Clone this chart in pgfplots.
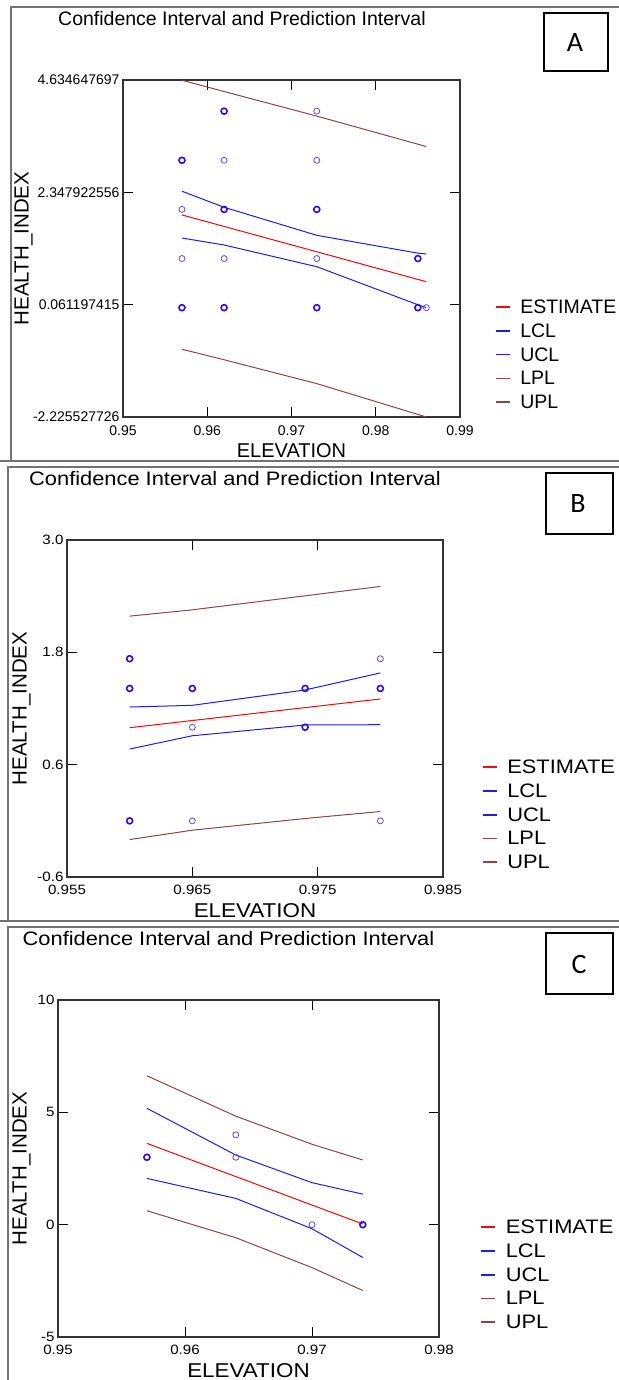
\documentclass[border=0pt]{standalone}
\usepackage{pgfplots}
\pgfplotsset{compat=1.18}
\usepackage{fontspec}
\setmainfont{Liberation Sans}
\newfontfamily\wide[FakeStretch=1.12]{Liberation Sans}
\newfontfamily\boxfont{Carlito}
\definecolor{cired}{RGB}{240,10,10}
\definecolor{ciblue}{RGB}{30,30,235}
\definecolor{pibrown}{RGB}{140,70,70}
\definecolor{mkblue}{RGB}{45,10,250}
\definecolor{framegray}{RGB}{115,115,115}

\pgfplotsset{
  panel/.style={
    scale only axis,
    height=337pt,
    tick align=inside,
    major tick length=10pt,
    axis line style={line width=1.2pt, black!80},
    every tick/.style={black, line width=0.9pt},
    clip=false,
    xticklabel style={yshift=-5pt},
    legend cell align=left,
    legend image code/.code={\draw[##1, line width=1.6pt] (0pt,6.5pt) -- (14pt,6.5pt);},
    legend style={anchor=north west, draw=none, fill=none, inner sep=0pt, outer sep=0pt, row sep=0pt,
      nodes={inner sep=0pt, text height=17pt, text depth=6.75pt, anchor=base west},
      /tikz/every odd column/.append style={column sep=10pt}},
    xlabel style={anchor=center},
    ylabel style={anchor=center, font=\fontsize{20.5}{24}\selectfont},
  },
  est/.style={cired, line width=1pt},
  cl/.style={ciblue, line width=1pt},
  pl/.style={pibrown, line width=1pt},
  thin pts/.style={only marks, mark=o, mark size=3pt, mkblue!75, mark options={line width=0.8pt}, forget plot},
  bold pts/.style={only marks, mark=o, mark size=3pt, mkblue, mark options={line width=1.6pt}, forget plot},
}

\begin{document}
\begin{tikzpicture}[x=1pt,y=1pt]
\useasboundingbox (0pt,0pt) rectangle (618pt,-1380pt);

% ---------- frames ----------
\draw[framegray, line width=1.3pt] (11pt,-461pt) -- (11pt,-7pt) -- (640pt,-7pt);
\draw[framegray, line width=1.3pt] (0pt,-461pt) -- (640pt,-461pt);
\draw[framegray, line width=1.3pt] (8pt,-921pt) -- (8pt,-467pt) -- (640pt,-467pt);
\draw[framegray, line width=1.3pt] (0pt,-921pt) -- (640pt,-921pt);
\draw[framegray, line width=1.3pt] (8pt,-1400pt) -- (8pt,-927pt) -- (640pt,-927pt);

% ---------- titles & letter boxes ----------
\node[anchor=west, inner sep=0pt, font=\fontsize{19.5}{23}\selectfont] at (58pt,-19pt) {Confidence Interval and Prediction Interval};
\node[anchor=west, inner sep=0pt, font=\wide\fontsize{19.5}{23}\selectfont] at (29pt,-479pt) {Confidence Interval and Prediction Interval};
\node[anchor=west, inner sep=0pt, font=\wide\fontsize{19.5}{23}\selectfont] at (22.5pt,-939pt) {Confidence Interval and Prediction Interval};

\draw[black, line width=1.3pt] (544pt,-13pt) rectangle (608pt,-71pt);
\node[font=\boxfont\fontsize{28}{30}\selectfont] at (575pt,-43pt) {A};
\draw[black, line width=1.3pt] (546pt,-473pt) rectangle (613pt,-534pt);
\node[font=\boxfont\fontsize{28}{30}\selectfont] at (578pt,-504pt) {B};
\draw[black, line width=1.3pt] (546pt,-933pt) rectangle (613pt,-994pt);
\node[font=\boxfont\fontsize{28}{30}\selectfont] at (579pt,-964pt) {C};

% ---------- Panel A ----------
\begin{axis}[panel, at={(123pt,-417pt)}, anchor=south west, width=337pt,
  xmin=0.95, xmax=0.99, ymin=-2.225527726, ymax=4.634647697,
  xtick={0.95,0.96,0.97,0.98,0.99}, xticklabels={0.95,0.96,0.97,0.98,0.99},
  ytick={-2.225527726,0.061197415,2.347922556,4.634647697},
  yticklabels={-2.225527726,0.061197415,2.347922556,4.634647697},
  ticklabel style={font=\fontsize{14}{16}\selectfont},
  xlabel={ELEVATION}, ylabel={HEALTH\_INDEX},
  xlabel style={at={(axis description cs:0.5,-0.1)}, font=\fontsize{20}{24}\selectfont},
  ylabel style={at={(axis description cs:-0.295,0.5)}},
  legend style={at={(axis description cs:1.103,0.357)}, font=\fontsize{19.5}{23.75}\selectfont},
]
\addplot[est] coordinates {(0.957,1.888) (0.986,0.529)};
\addplot[cl] coordinates {(0.957,1.418) (0.962,1.276) (0.973,0.834) (0.985,0.06) (0.986,0.0)};
\addplot[cl] coordinates {(0.957,2.37) (0.962,2.044) (0.973,1.473) (0.985,1.11) (0.986,1.092)};
\addplot[pl] coordinates {(0.957,-0.846) (0.962,-1.06) (0.973,-1.546) (0.986,-2.225)};
\addplot[pl] coordinates {(0.957,4.63) (0.962,4.40) (0.973,3.90) (0.986,3.28)};
\legend{ESTIMATE,LCL,UCL,LPL,UPL}
\addplot[thin pts] coordinates {(0.957,2) (0.957,1) (0.962,3) (0.962,1) (0.973,4) (0.973,3) (0.973,1) (0.986,0)};
\addplot[bold pts] coordinates {(0.957,3) (0.957,0) (0.962,4) (0.962,2) (0.962,0) (0.973,2) (0.973,0) (0.985,1) (0.985,0)};
\end{axis}

% ---------- Panel B ----------
\begin{axis}[panel, at={(67pt,-877pt)}, anchor=south west, width=376pt,
  xmin=0.955, xmax=0.985, ymin=-0.6, ymax=3.0,
  xtick={0.955,0.965,0.975,0.985}, xticklabels={0.955,0.965,0.975,0.985},
  ytick={-0.6,0.6,1.8,3.0}, yticklabels={-0.6,0.6,1.8,3.0},
  ticklabel style={font=\wide\fontsize{13.5}{16}\selectfont},
  xlabel={ELEVATION}, ylabel={HEALTH\_INDEX},
  xlabel style={at={(axis description cs:0.5,-0.1)}, font=\wide\fontsize{20}{24}\selectfont},
  ylabel style={at={(axis description cs:-0.1205,0.5)}},
  legend style={at={(axis description cs:1.103,0.357)}, font=\wide\fontsize{19.5}{23.75}\selectfont},
]
\addplot[est] coordinates {(0.960,0.995) (0.980,1.302)};
\addplot[cl] coordinates {(0.960,0.767) (0.965,0.909) (0.974,1.024) (0.980,1.027)};
\addplot[cl] coordinates {(0.960,1.216) (0.965,1.234) (0.974,1.398) (0.980,1.58)};
\addplot[pl] coordinates {(0.960,-0.200) (0.965,-0.100) (0.974,0.025) (0.980,0.100)};
\addplot[pl] coordinates {(0.960,2.187) (0.965,2.254) (0.974,2.404) (0.980,2.504)};
\legend{ESTIMATE,LCL,UCL,LPL,UPL}
\addplot[thin pts] coordinates {(0.965,1.0) (0.965,0) (0.980,1.732) (0.980,0)};
\addplot[bold pts] coordinates {(0.960,1.732) (0.960,1.414) (0.960,0) (0.965,1.414) (0.974,1.414) (0.974,1.0) (0.980,1.414)};
\end{axis}

% ---------- Panel C ----------
\begin{axis}[panel, at={(58pt,-1337pt)}, anchor=south west, width=381pt,
  xmin=0.95, xmax=0.98, ymin=-5, ymax=10,
  xtick={0.95,0.96,0.97,0.98}, xticklabels={0.95,0.96,0.97,0.98},
  ytick={-5,0,5,10}, yticklabels={-5,0,5,10},
  ticklabel style={font=\wide\fontsize{13.5}{16}\selectfont},
  xlabel={ELEVATION}, ylabel={HEALTH\_INDEX},
  xlabel style={at={(axis description cs:0.5,-0.1)}, font=\wide\fontsize{20}{24}\selectfont},
  ylabel style={at={(axis description cs:-0.0953,0.5)}},
  legend style={at={(axis description cs:1.108,0.357)}, font=\wide\fontsize{19.5}{23.75}\selectfont},
]
\addplot[est] coordinates {(0.957,3.62) (0.974,0.03)};
\addplot[cl] coordinates {(0.957,2.06) (0.964,1.17) (0.970,-0.18) (0.974,-1.46)};
\addplot[cl] coordinates {(0.957,5.18) (0.964,3.10) (0.970,1.87) (0.974,1.36)};
\addplot[pl] coordinates {(0.957,0.62) (0.964,-0.58) (0.970,-1.91) (0.974,-2.93)};
\addplot[pl] coordinates {(0.957,6.63) (0.964,4.83) (0.970,3.58) (0.974,2.88)};
\legend{ESTIMATE,LCL,UCL,LPL,UPL}
\addplot[thin pts] coordinates {(0.964,4) (0.964,3) (0.970,0)};
\addplot[bold pts] coordinates {(0.957,3) (0.974,0)};
\end{axis}
\end{tikzpicture}
\end{document}
